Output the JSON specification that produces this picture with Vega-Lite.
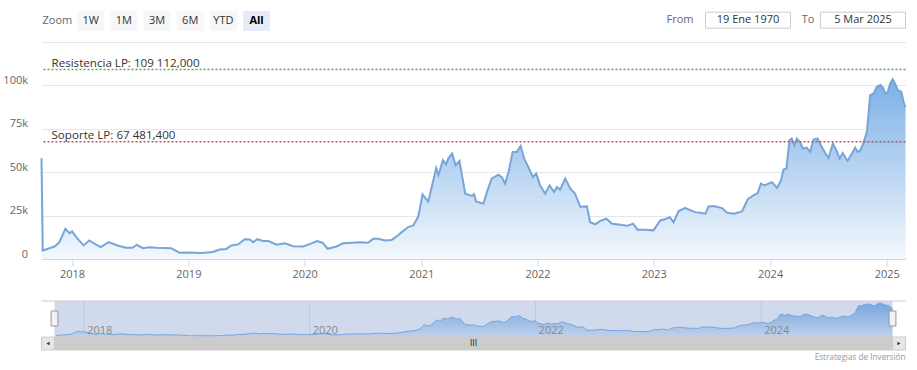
{
  "$schema": "https://vega.github.io/schema/vega-lite/v6.json",
  "background": "white",
  "padding": {"left": 2.5, "top": 11, "right": 12, "bottom": 2},
  "config": {"view": {"stroke": null}, "font": "Open Sans", "axis": {"labelFont": "Open Sans"}, "title": {"font": "Open Sans"}},
  "datasets": {
    "buttons": [{"label": "Zoom"}, {"label": "1W"}, {"label": "1M"}, {"label": "3M"}, {"label": "6M"}, {"label": "YTD"}, {"label": "All"}],
    "dates": [{"label": "From", "value": "19 Ene 1970"}, {"label": "To", "value": "5 Mar 2025"}],
    "lines": [{"kind": "res", "label": "Resistencia LP: 109 112,000", "value": 109112}, {"kind": "sop", "label": "Soporte LP: 67 481,400", "value": 67481.4}],
    "navticks": [{"d": "2018-01-01"}, {"d": "2020-01-01"}, {"d": "2022-01-01"}, {"d": "2024-01-01"}],
    "btc": [
      {"date": "2017-09-27", "price": 58000}, {"date": "2017-10-01", "price": 4900}, {"date": "2017-10-17", "price": 5900}, {"date": "2017-11-07", "price": 7200}, {"date": "2017-11-22", "price": 9700}, {"date": "2017-12-11", "price": 17400}, {"date": "2017-12-24", "price": 14900},
      {"date": "2018-01-01", "price": 15900}, {"date": "2018-01-16", "price": 12200}, {"date": "2018-02-06", "price": 7800}, {"date": "2018-02-24", "price": 10700}, {"date": "2018-03-12", "price": 8800}, {"date": "2018-04-01", "price": 6800}, {"date": "2018-04-25", "price": 9700}, {"date": "2018-05-24", "price": 7800}, {"date": "2018-06-19", "price": 6500}, {"date": "2018-07-10", "price": 6500}, {"date": "2018-07-23", "price": 8200}, {"date": "2018-08-11", "price": 6200}, {"date": "2018-09-01", "price": 6800}, {"date": "2018-09-22", "price": 6500}, {"date": "2018-11-08", "price": 6200}, {"date": "2018-12-04", "price": 3600}, {"date": "2018-12-30", "price": 3800},
      {"date": "2019-02-10", "price": 3500}, {"date": "2019-03-19", "price": 4000}, {"date": "2019-04-09", "price": 5500}, {"date": "2019-04-30", "price": 5800}, {"date": "2019-05-16", "price": 7800}, {"date": "2019-06-06", "price": 8400}, {"date": "2019-06-27", "price": 11400}, {"date": "2019-07-13", "price": 11200}, {"date": "2019-07-23", "price": 9700}, {"date": "2019-08-06", "price": 11400}, {"date": "2019-08-24", "price": 10300}, {"date": "2019-09-09", "price": 10300}, {"date": "2019-10-05", "price": 8200}, {"date": "2019-10-31", "price": 9100}, {"date": "2019-11-26", "price": 7400}, {"date": "2019-12-27", "price": 7200},
      {"date": "2020-01-17", "price": 8600}, {"date": "2020-02-09", "price": 10300}, {"date": "2020-02-26", "price": 9400}, {"date": "2020-03-13", "price": 5900}, {"date": "2020-04-10", "price": 7200}, {"date": "2020-05-01", "price": 9100}, {"date": "2020-05-27", "price": 9400}, {"date": "2020-06-22", "price": 9600}, {"date": "2020-07-18", "price": 9400}, {"date": "2020-08-03", "price": 11600}, {"date": "2020-08-19", "price": 11600}, {"date": "2020-09-09", "price": 10700}, {"date": "2020-09-30", "price": 11000}, {"date": "2020-10-16", "price": 13000}, {"date": "2020-11-01", "price": 15500}, {"date": "2020-11-21", "price": 18400}, {"date": "2020-12-07", "price": 19300}, {"date": "2020-12-23", "price": 24600},
      {"date": "2021-01-05", "price": 37200}, {"date": "2021-01-23", "price": 33000}, {"date": "2021-02-17", "price": 52400}, {"date": "2021-02-24", "price": 48400}, {"date": "2021-03-10", "price": 56900}, {"date": "2021-03-20", "price": 54500}, {"date": "2021-03-27", "price": 58000}, {"date": "2021-04-08", "price": 60700}, {"date": "2021-04-19", "price": 54000}, {"date": "2021-05-01", "price": 56500}, {"date": "2021-05-19", "price": 37600}, {"date": "2021-06-09", "price": 36300}, {"date": "2021-06-16", "price": 37300}, {"date": "2021-06-22", "price": 33200}, {"date": "2021-07-15", "price": 31900}, {"date": "2021-07-28", "price": 39500}, {"date": "2021-08-10", "price": 46300}, {"date": "2021-08-31", "price": 48600}, {"date": "2021-09-11", "price": 47200}, {"date": "2021-09-21", "price": 43400}, {"date": "2021-10-02", "price": 50100}, {"date": "2021-10-15", "price": 61700}, {"date": "2021-10-28", "price": 61700}, {"date": "2021-11-09", "price": 65100}, {"date": "2021-11-20", "price": 57800}, {"date": "2021-12-03", "price": 53000}, {"date": "2021-12-17", "price": 47200}, {"date": "2021-12-28", "price": 49200},
      {"date": "2022-01-09", "price": 42400}, {"date": "2022-01-25", "price": 37600}, {"date": "2022-02-08", "price": 42400}, {"date": "2022-02-22", "price": 38600}, {"date": "2022-03-03", "price": 41500}, {"date": "2022-03-13", "price": 40000}, {"date": "2022-03-29", "price": 46300}, {"date": "2022-04-14", "price": 40500}, {"date": "2022-04-29", "price": 37600}, {"date": "2022-05-15", "price": 30100}, {"date": "2022-06-05", "price": 30300}, {"date": "2022-06-15", "price": 21200}, {"date": "2022-07-01", "price": 20000}, {"date": "2022-07-17", "price": 22000}, {"date": "2022-08-05", "price": 23200}, {"date": "2022-08-23", "price": 20300}, {"date": "2022-09-18", "price": 19700}, {"date": "2022-10-09", "price": 19100}, {"date": "2022-10-28", "price": 20300}, {"date": "2022-11-11", "price": 16900}, {"date": "2022-12-05", "price": 16800}, {"date": "2022-12-31", "price": 16500},
      {"date": "2023-01-21", "price": 22200}, {"date": "2023-02-06", "price": 23000}, {"date": "2023-02-20", "price": 24100}, {"date": "2023-03-04", "price": 21200}, {"date": "2023-03-20", "price": 27600}, {"date": "2023-04-10", "price": 29500}, {"date": "2023-04-20", "price": 28500}, {"date": "2023-05-11", "price": 27000}, {"date": "2023-05-27", "price": 26600}, {"date": "2023-06-12", "price": 26100}, {"date": "2023-06-22", "price": 30300}, {"date": "2023-07-08", "price": 30500}, {"date": "2023-08-03", "price": 29300}, {"date": "2023-08-19", "price": 26600}, {"date": "2023-09-09", "price": 26100}, {"date": "2023-10-05", "price": 27400}, {"date": "2023-10-23", "price": 34500}, {"date": "2023-11-10", "price": 36700}, {"date": "2023-11-23", "price": 38000}, {"date": "2023-12-03", "price": 43400}, {"date": "2023-12-14", "price": 42400}, {"date": "2023-12-27", "price": 43400},
      {"date": "2024-01-07", "price": 44300}, {"date": "2024-01-23", "price": 40900}, {"date": "2024-02-04", "price": 45300}, {"date": "2024-02-12", "price": 51500}, {"date": "2024-02-21", "price": 52000}, {"date": "2024-03-02", "price": 68400}, {"date": "2024-03-09", "price": 69400}, {"date": "2024-03-17", "price": 65500}, {"date": "2024-03-25", "price": 69400}, {"date": "2024-04-04", "price": 67400}, {"date": "2024-04-13", "price": 63600}, {"date": "2024-04-25", "price": 64200}, {"date": "2024-05-06", "price": 61700}, {"date": "2024-05-16", "price": 68800}, {"date": "2024-05-29", "price": 69400}, {"date": "2024-06-11", "price": 64600}, {"date": "2024-06-22", "price": 61100}, {"date": "2024-07-02", "price": 58200}, {"date": "2024-07-16", "price": 66500}, {"date": "2024-07-28", "price": 62200}, {"date": "2024-08-06", "price": 57800}, {"date": "2024-08-16", "price": 61100}, {"date": "2024-08-31", "price": 56500}, {"date": "2024-09-14", "price": 60700}, {"date": "2024-09-24", "price": 64200}, {"date": "2024-10-01", "price": 61700}, {"date": "2024-10-10", "price": 62500}, {"date": "2024-10-20", "price": 66900}, {"date": "2024-10-31", "price": 73200}, {"date": "2024-11-10", "price": 94400}, {"date": "2024-11-21", "price": 95400}, {"date": "2024-12-01", "price": 99200}, {"date": "2024-12-12", "price": 100200}, {"date": "2024-12-20", "price": 98700}, {"date": "2024-12-28", "price": 95400},
      {"date": "2025-01-04", "price": 96000}, {"date": "2025-01-12", "price": 101200}, {"date": "2025-01-20", "price": 103500}, {"date": "2025-01-28", "price": 100700}, {"date": "2025-02-05", "price": 97300}, {"date": "2025-02-16", "price": 96300}, {"date": "2025-02-24", "price": 89600}, {"date": "2025-03-01", "price": 87300}
    ]
  },
  "bounds": "flush",
  "spacing": 11,
  "vconcat": [
    {
      "width": 864,
      "height": 20,
      "resolve": {"scale": {"x": "independent"}},
      "layer": [
        {
          "data": {"name": "buttons"},
          "encoding": {
            "x": {"field": "label", "type": "nominal", "scale": {"domain": ["Zoom", "1W", "1M", "3M", "6M", "YTD", "All"], "range": [0, 231], "paddingInner": 0.19, "paddingOuter": 0.075}, "axis": null}
          },
          "layer": [
            {"transform": [{"filter": "datum.label !== 'Zoom'"}], "mark": {"type": "rect"}, "encoding": {"fill": {"condition": {"test": "datum.label === 'All'", "value": "#e6ebf5"}, "value": "#f7f7f7"}}},
            {"transform": [{"filter": "datum.label !== 'All'"}], "mark": {"type": "text", "fontSize": 11}, "encoding": {"text": {"field": "label"}, "color": {"condition": {"test": "datum.label === 'Zoom'", "value": "#666666"}, "value": "#333333"}}},
            {"transform": [{"filter": "datum.label === 'All'"}], "mark": {"type": "text", "fontSize": 11, "fontWeight": "bold", "color": "#000000"}, "encoding": {"text": {"field": "label"}}}
          ]
        },
        {
          "data": {"name": "dates"},
          "encoding": {
            "x": {"field": "label", "type": "nominal", "scale": {"domain": ["From", "To"], "range": [664, 864], "paddingInner": 0.26, "paddingOuter": 0}, "axis": null},
            "y": {"datum": "box", "type": "nominal", "scale": {"paddingInner": 0, "paddingOuter": 0.125, "align": 0.3}, "axis": null}
          },
          "layer": [
            {"mark": {"type": "rect", "fill": "#ffffff", "stroke": "#cccccc", "strokeWidth": 1}},
            {"mark": {"type": "text", "fontSize": 11, "color": "#333333"}, "encoding": {"text": {"field": "value"}}},
            {"transform": [{"filter": "datum.label === 'From'"}], "mark": {"type": "text", "fontSize": 11, "color": "#666666", "align": "right", "dx": -12}, "encoding": {"x": {"field": "label", "type": "nominal", "bandPosition": 0}, "text": {"field": "label"}}},
            {"transform": [{"filter": "datum.label === 'To'"}], "mark": {"type": "text", "fontSize": 11, "color": "#666666", "align": "right", "dx": -6}, "encoding": {"x": {"field": "label", "type": "nominal", "bandPosition": 0}, "text": {"field": "label"}}}
          ]
        }
      ]
    },
    {
      "width": 864,
      "height": 217,
      "layer": [
        {
          "data": {"name": "btc"},
          "mark": {"type": "area", "color": {"gradient": "linear", "x1": 0, "y1": 0, "x2": 0, "y2": 1, "stops": [{"offset": 0, "color": "#7cb0e6"}, {"offset": 1, "color": "#f3f8fd"}]}},
          "encoding": {
            "x": {"field": "date", "type": "temporal", "title": null, "axis": {"format": "%Y", "tickCount": {"interval": "year", "step": 1}, "grid": false, "domainColor": "#ccd6eb", "tickColor": "#ccd6eb", "tickSize": 7, "labelPadding": 2, "labelColor": "#666666", "labelFontSize": 11, "labelFlush": false, "labelOverlap": false}},
            "y": {"field": "price", "type": "quantitative", "title": null, "scale": {"domain": [0, 125000], "nice": false}, "axis": {"values": [0, 25000, 50000, 75000, 100000, 125000], "labelExpr": "datum.value >= 125000 ? '' : datum.value === 0 ? '0' : (datum.value / 1000) + 'k'", "grid": true, "gridColor": "#e6e6e6", "domain": false, "ticks": false, "labelPadding": 14, "labelColor": "#666666", "labelFontSize": 11, "labelBaseline": "middle", "labelOffset": -5}}
          }
        },
        {
          "data": {"name": "btc"},
          "mark": {"type": "line", "stroke": "#78a5d8", "strokeWidth": 2},
          "encoding": {"x": {"field": "date", "type": "temporal", "title": null}, "y": {"field": "price", "type": "quantitative", "title": null}}
        },
        {
          "data": {"name": "lines"},
          "mark": {"type": "rule", "strokeDash": [2, 2], "strokeWidth": 1.5},
          "encoding": {"y": {"field": "value", "type": "quantitative", "title": null}, "color": {"condition": {"test": "datum.kind === 'res'", "value": "#6a9f58"}, "value": "#b35a5a"}}
        },
        {
          "data": {"name": "lines"},
          "mark": {"type": "text", "align": "left", "baseline": "alphabetic", "dx": 10, "dy": -3, "fontSize": 11.6, "color": "#333333"},
          "encoding": {"x": {"datum": {"year": 2017, "month": 9, "date": 27}, "type": "temporal"}, "y": {"field": "value", "type": "quantitative", "title": null}, "text": {"field": "label"}}
        }
      ]
    },
    {
      "width": 864,
      "height": 80,
      "title": {"text": "Estrategias de Inversión", "orient": "bottom", "anchor": "end", "frame": "group", "fontSize": 8.2, "fontWeight": "normal", "color": "#999999", "offset": 3},
      "layer": [
        {
          "data": {"name": "navticks"},
          "mark": {"type": "rule", "stroke": "#e6e6e6", "strokeWidth": 1},
          "encoding": {
            "x": {"field": "d", "type": "temporal", "title": null, "scale": {"domain": [{"year": 2017, "month": 8, "date": 16}, {"year": 2025, "month": 4, "date": 12}]}, "axis": null},
            "y": {"datum": 0, "type": "quantitative", "title": null, "scale": {"domain": [-39572, 203948], "nice": false, "zero": false}, "axis": null},
            "y2": {"datum": 109584}
          }
        },
        {
          "data": {"name": "btc"},
          "transform": [{"filter": "!(year(datum.date) === 2017 && datum.price > 50000)"}],
          "mark": {"type": "area", "color": {"gradient": "linear", "x1": 0, "y1": 0, "x2": 0, "y2": 1, "stops": [{"offset": 0, "color": "#7cb5ec"}, {"offset": 1, "color": "#e8f1fb"}]}},
          "encoding": {
            "x": {"field": "date", "type": "temporal", "title": null},
            "y": {"field": "price", "type": "quantitative", "title": null},
            "y2": {"datum": 0}
          }
        },
        {
          "data": {"name": "btc"},
          "transform": [{"filter": "!(year(datum.date) === 2017 && datum.price > 50000)"}],
          "mark": {"type": "line", "stroke": "#7cb5ec", "strokeWidth": 1},
          "encoding": {"x": {"field": "date", "type": "temporal", "title": null}, "y": {"field": "price", "type": "quantitative", "title": null}}
        },
        {
          "data": {"values": [{}]},
          "mark": {"type": "rect", "fill": "#6685c2", "fillOpacity": 0.3},
          "encoding": {"x": {"datum": {"year": 2017, "month": 9, "date": 27}, "type": "temporal"}, "x2": {"datum": {"year": 2025, "month": 3, "date": 1}}, "y": {"datum": 0, "type": "quantitative"}, "y2": {"datum": 109584}}
        },
        {
          "data": {"name": "navticks"},
          "mark": {"type": "text", "align": "left", "baseline": "alphabetic", "dx": 3, "fontSize": 11, "color": "#888888"},
          "encoding": {"x": {"field": "d", "type": "temporal"}, "y": {"datum": 10654, "type": "quantitative"}, "text": {"field": "d", "type": "temporal", "format": "%Y"}}
        },
        {
          "data": {"values": [{}]},
          "mark": {"type": "rule", "stroke": "#cccccc", "strokeWidth": 1},
          "encoding": {"y": {"datum": 109584, "type": "quantitative"}}
        },
        {
          "data": {"values": [{}]},
          "mark": {"type": "rect", "fill": "#f2f2f2"},
          "encoding": {"x": {"datum": {"year": 2017, "month": 8, "date": 16}, "type": "temporal"}, "x2": {"datum": {"year": 2025, "month": 4, "date": 12}}, "y": {"datum": 0, "type": "quantitative"}, "y2": {"datum": -39572}}
        },
        {
          "data": {"values": [{}]},
          "mark": {"type": "rect", "fill": "#cccccc", "stroke": "#cccccc", "strokeWidth": 1},
          "encoding": {"x": {"datum": {"year": 2017, "month": 9, "date": 27}, "type": "temporal"}, "x2": {"datum": {"year": 2025, "month": 3, "date": 1}}, "y": {"datum": 0, "type": "quantitative"}, "y2": {"datum": -39572}}
        },
        {
          "data": {"values": [{}]},
          "mark": {"type": "rect", "fill": "#e6e6e6", "stroke": "#cccccc", "strokeWidth": 1},
          "encoding": {"x": {"datum": {"year": 2017, "month": 8, "date": 16}, "type": "temporal"}, "x2": {"datum": {"year": 2017, "month": 9, "date": 27}}, "y": {"datum": 0, "type": "quantitative"}, "y2": {"datum": -39572}}
        },
        {
          "data": {"values": [{}]},
          "mark": {"type": "rect", "fill": "#e6e6e6", "stroke": "#cccccc", "strokeWidth": 1},
          "encoding": {"x": {"datum": {"year": 2025, "month": 3, "date": 1}, "type": "temporal"}, "x2": {"datum": {"year": 2025, "month": 4, "date": 12}}, "y": {"datum": 0, "type": "quantitative"}, "y2": {"datum": -39572}}
        },
        {
          "data": {"values": [{}]},
          "mark": {"type": "point", "shape": "triangle-left", "filled": true, "size": 14, "color": "#333333", "opacity": 1},
          "encoding": {"x": {"datum": {"year": 2017, "month": 9, "date": 6}, "type": "temporal"}, "y": {"datum": -19786, "type": "quantitative"}}
        },
        {
          "data": {"values": [{}]},
          "mark": {"type": "point", "shape": "triangle-right", "filled": true, "size": 14, "color": "#333333", "opacity": 1},
          "encoding": {"x": {"datum": {"year": 2025, "month": 3, "date": 22}, "type": "temporal"}, "y": {"datum": -19786, "type": "quantitative"}}
        },
        {
          "data": {"values": [{}]},
          "mark": {"type": "text", "text": "III", "font": "DejaVu Sans", "fontSize": 8, "color": "#333333"},
          "encoding": {"x": {"datum": {"year": 2021, "month": 6, "date": 14}, "type": "temporal"}, "y": {"datum": -19786, "type": "quantitative"}}
        },
        {
          "data": {"values": [{}]},
          "mark": {"type": "rect", "fill": "#f2f2f2", "stroke": "#999999", "strokeWidth": 1},
          "encoding": {"x": {"datum": {"year": 2017, "month": 9, "date": 16}, "type": "temporal"}, "x2": {"datum": {"year": 2017, "month": 10, "date": 8}}, "y": {"datum": 33484, "type": "quantitative"}, "y2": {"datum": 79144}}
        },
        {
          "data": {"values": [{}]},
          "mark": {"type": "rect", "fill": "#f2f2f2", "stroke": "#999999", "strokeWidth": 1},
          "encoding": {"x": {"datum": {"year": 2025, "month": 2, "date": 18}, "type": "temporal"}, "x2": {"datum": {"year": 2025, "month": 3, "date": 12}}, "y": {"datum": 33484, "type": "quantitative"}, "y2": {"datum": 79144}}
        }
      ]
    }
  ]
}
